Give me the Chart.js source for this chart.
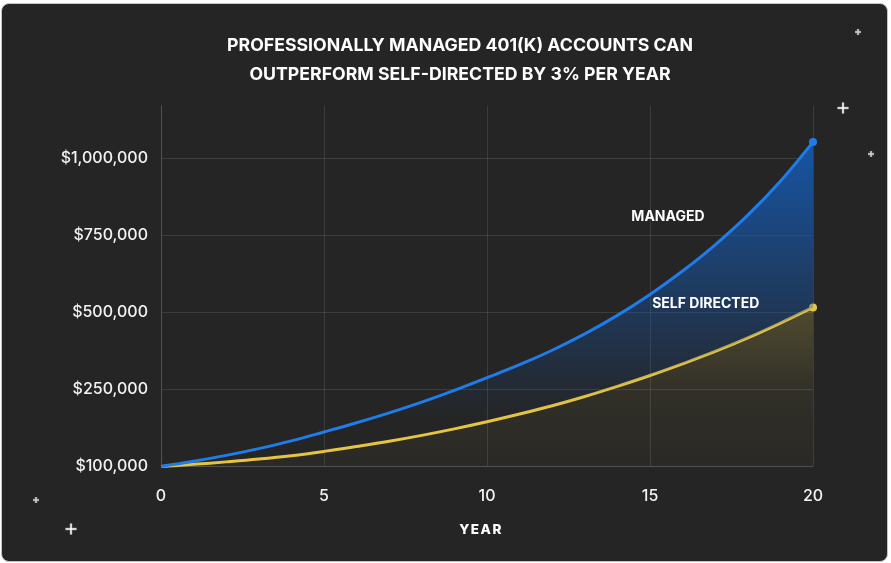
<!DOCTYPE html>
<html><head><meta charset="utf-8">
<script src="https://cdn.jsdelivr.net/npm/chart.js@4.4.1/dist/chart.umd.min.js"></script>
<style>
html,body{margin:0;padding:0;background:#fff;}
#wrap{position:relative;width:891px;height:563px;overflow:hidden;}
#card{position:absolute;left:1px;top:3px;width:887px;height:559px;box-sizing:border-box;border:1px solid #c4c4c4;border-radius:8px;background:#252525;}
canvas{position:absolute;left:0;top:0;}
</style></head><body>
<div id="wrap"><div id="card"></div><canvas id="c" width="891" height="563"></canvas></div>
<script>
// ---- data ----
const years = [0,1,2,3,4,5,6,7,8,9,10,11,12,13,14,15,16,17,18,19,20];
const managed = [0,17000,36000,58000,83000,112000,142000,174000,209000,247000,288000,330000,377000,430000,490000,558000,634000,719000,815000,925000,1052000];
const selfDirected = [0,7000,15000,24000,35000,49000,65000,82000,101000,122000,145000,170000,197000,227000,260000,295000,333000,373000,417000,465000,516000];
const yTicks = [0,250000,500000,750000,1000000];
const yTickLabels = ['$100,000','$250,000','$500,000','$750,000','$1,000,000'];
const xTicks = [0,5,10,15,20];
const titleLines = ['PROFESSIONALLY MANAGED 401(K) ACCOUNTS CAN','OUTPERFORM SELF-DIRECTED BY 3% PER YEAR'];
const seriesNames = ['MANAGED','SELF DIRECTED'];
const xTitle = 'YEAR';

const BLUE = '#1f7ce8';
const YELLOW = '#e6c443';
const GRID = 'rgba(255,255,255,0.11)';
const last = years.length - 1;

// label anchors (data coordinates)
const labelAnchors = [{x:15.55, y:811000},{x:16.71, y:529000}];

const annotate = {
  id:'annotate',
  afterDatasetsDraw(chart){
    const {ctx, scales:{x,y}} = chart;
    ctx.save();
    ctx.fillStyle = '#ffffff';
    ctx.font = '700 14px Inter';
    ctx.textAlign = 'center';
    ctx.textBaseline = 'middle';
    seriesNames.forEach((n,i)=>{
      ctx.fillText(n, x.getPixelForValue(labelAnchors[i].x), y.getPixelForValue(labelAnchors[i].y));
    });
    ctx.restore();
  },
  afterDraw(chart){
    const ctx = chart.ctx;
    const ca = chart.chartArea;
    // x-axis title
    ctx.save();
    ctx.fillStyle = '#ffffff';
    ctx.font = '800 13.5px Inter';
    try { ctx.letterSpacing = '1.5px'; } catch(e) {}
    ctx.textAlign = 'center';
    ctx.textBaseline = 'middle';
    ctx.fillText(xTitle, (ca.left + ca.right)/2 - 6, 530);
    ctx.restore();
    // decorative sparkles
    const stars = [[858,32,3,0.75],[843,108,5.5,1],[871,154,3,0.75],[36,500,3,0.75],[71,529,5.5,1]];
    ctx.save();
    stars.forEach(([sx,sy,r,a])=>{
      ctx.strokeStyle = 'rgba(255,255,255,'+(a*0.25)+')';
      ctx.lineWidth = 3;
      ctx.beginPath();
      ctx.moveTo(sx-r,sy);ctx.lineTo(sx+r,sy);ctx.moveTo(sx,sy-r);ctx.lineTo(sx,sy+r);
      ctx.stroke();
      ctx.strokeStyle = 'rgba(255,255,255,'+a+')';
      ctx.lineWidth = 1.5;
      ctx.beginPath();
      ctx.moveTo(sx-r,sy);ctx.lineTo(sx+r,sy);ctx.moveTo(sx,sy-r);ctx.lineTo(sx,sy+r);
      ctx.stroke();
    });
    ctx.restore();
  }
};

function blueFill(c){
  const ch = c.chart;
  if(!ch.chartArea) return 'rgba(0,0,0,0)';
  const ys = ch.scales.y;
  const g = ch.ctx.createLinearGradient(0, ys.getPixelForValue(managed[last]), 0, ys.getPixelForValue(150000));
  g.addColorStop(0,'rgba(22,90,178,0.9)');
  g.addColorStop(1,'rgba(22,90,178,0)');
  return g;
}
function yellowFill(c){
  const ch = c.chart;
  if(!ch.chartArea) return 'rgba(0,0,0,0)';
  const ys = ch.scales.y;
  const top = ys.getPixelForValue(selfDirected[last]);
  const bot = ys.getPixelForValue(0);
  const g = ch.ctx.createLinearGradient(0, top, 0, bot);
  g.addColorStop(0,'rgba(205,185,80,0.26)');
  g.addColorStop(0.55,'rgba(205,185,80,0.07)');
  g.addColorStop(1,'rgba(205,185,80,0.03)');
  return g;
}

new Chart(document.getElementById('c'), {
  type:'line',
  data:{
    datasets:[
      {label:'Managed', data: years.map((v,i)=>({x:v,y:managed[i]})), borderColor:BLUE, borderWidth:3,
       fill:'+1', backgroundColor: blueFill, pointRadius: c=>c.dataIndex===last?4:0,
       pointBackgroundColor:BLUE, pointBorderWidth:0, tension:0.4, clip:10},
      {label:'Self directed', data: years.map((v,i)=>({x:v,y:selfDirected[i]})), borderColor:YELLOW, borderWidth:3,
       fill:'origin', backgroundColor: yellowFill, pointRadius: c=>c.dataIndex===last?4:0,
       pointBackgroundColor:YELLOW, pointBorderWidth:0, tension:0.4, clip:10}
    ]
  },
  options:{
    responsive:false, animation:false, devicePixelRatio:1,
    layout:{padding:{left:29,right:0,top:0,bottom:0}},
    plugins:{
      legend:{display:false}, tooltip:{enabled:false},
      title:{display:true, text:titleLines, color:'#ffffff',
        font:{family:'Inter', size:17.7, weight:'700', lineHeight:29/17.7},
        padding:{top:31.5,bottom:16.2}}
    },
    scales:{
      x:{type:'linear', min:0, max:20,
        afterBuildTicks:s=>{s.ticks = xTicks.map(v=>({value:v}));},
        grid:{color:GRID, drawTicks:false}, border:{color:GRID},
        ticks:{color:'#f2f2f2', font:{family:'Inter', size:16, weight:'500'}, padding:20},
        title:{display:false, text:xTitle},
        afterFit:s=>{s.height = 96.5;}
      },
      y:{type:'linear', min:0, max:1170000,
        afterBuildTicks:s=>{s.ticks = yTicks.map(v=>({value:v}));},
        grid:{color:GRID, drawTicks:false}, border:{color:GRID},
        ticks:{color:'#f2f2f2', font:{family:'Inter', size:16, weight:'500'}, padding:13,
          callback:v=>yTickLabels[yTicks.indexOf(v)]},
        afterFit:s=>{s.width = 132;}
      },
      y2:{type:'linear', position:'right', min:0, max:1, grid:{display:false}, border:{display:false},
        ticks:{display:false}, afterFit:s=>{s.width = 78;}}
    }
  },
  plugins:[annotate]
});
</script>
</body></html>
